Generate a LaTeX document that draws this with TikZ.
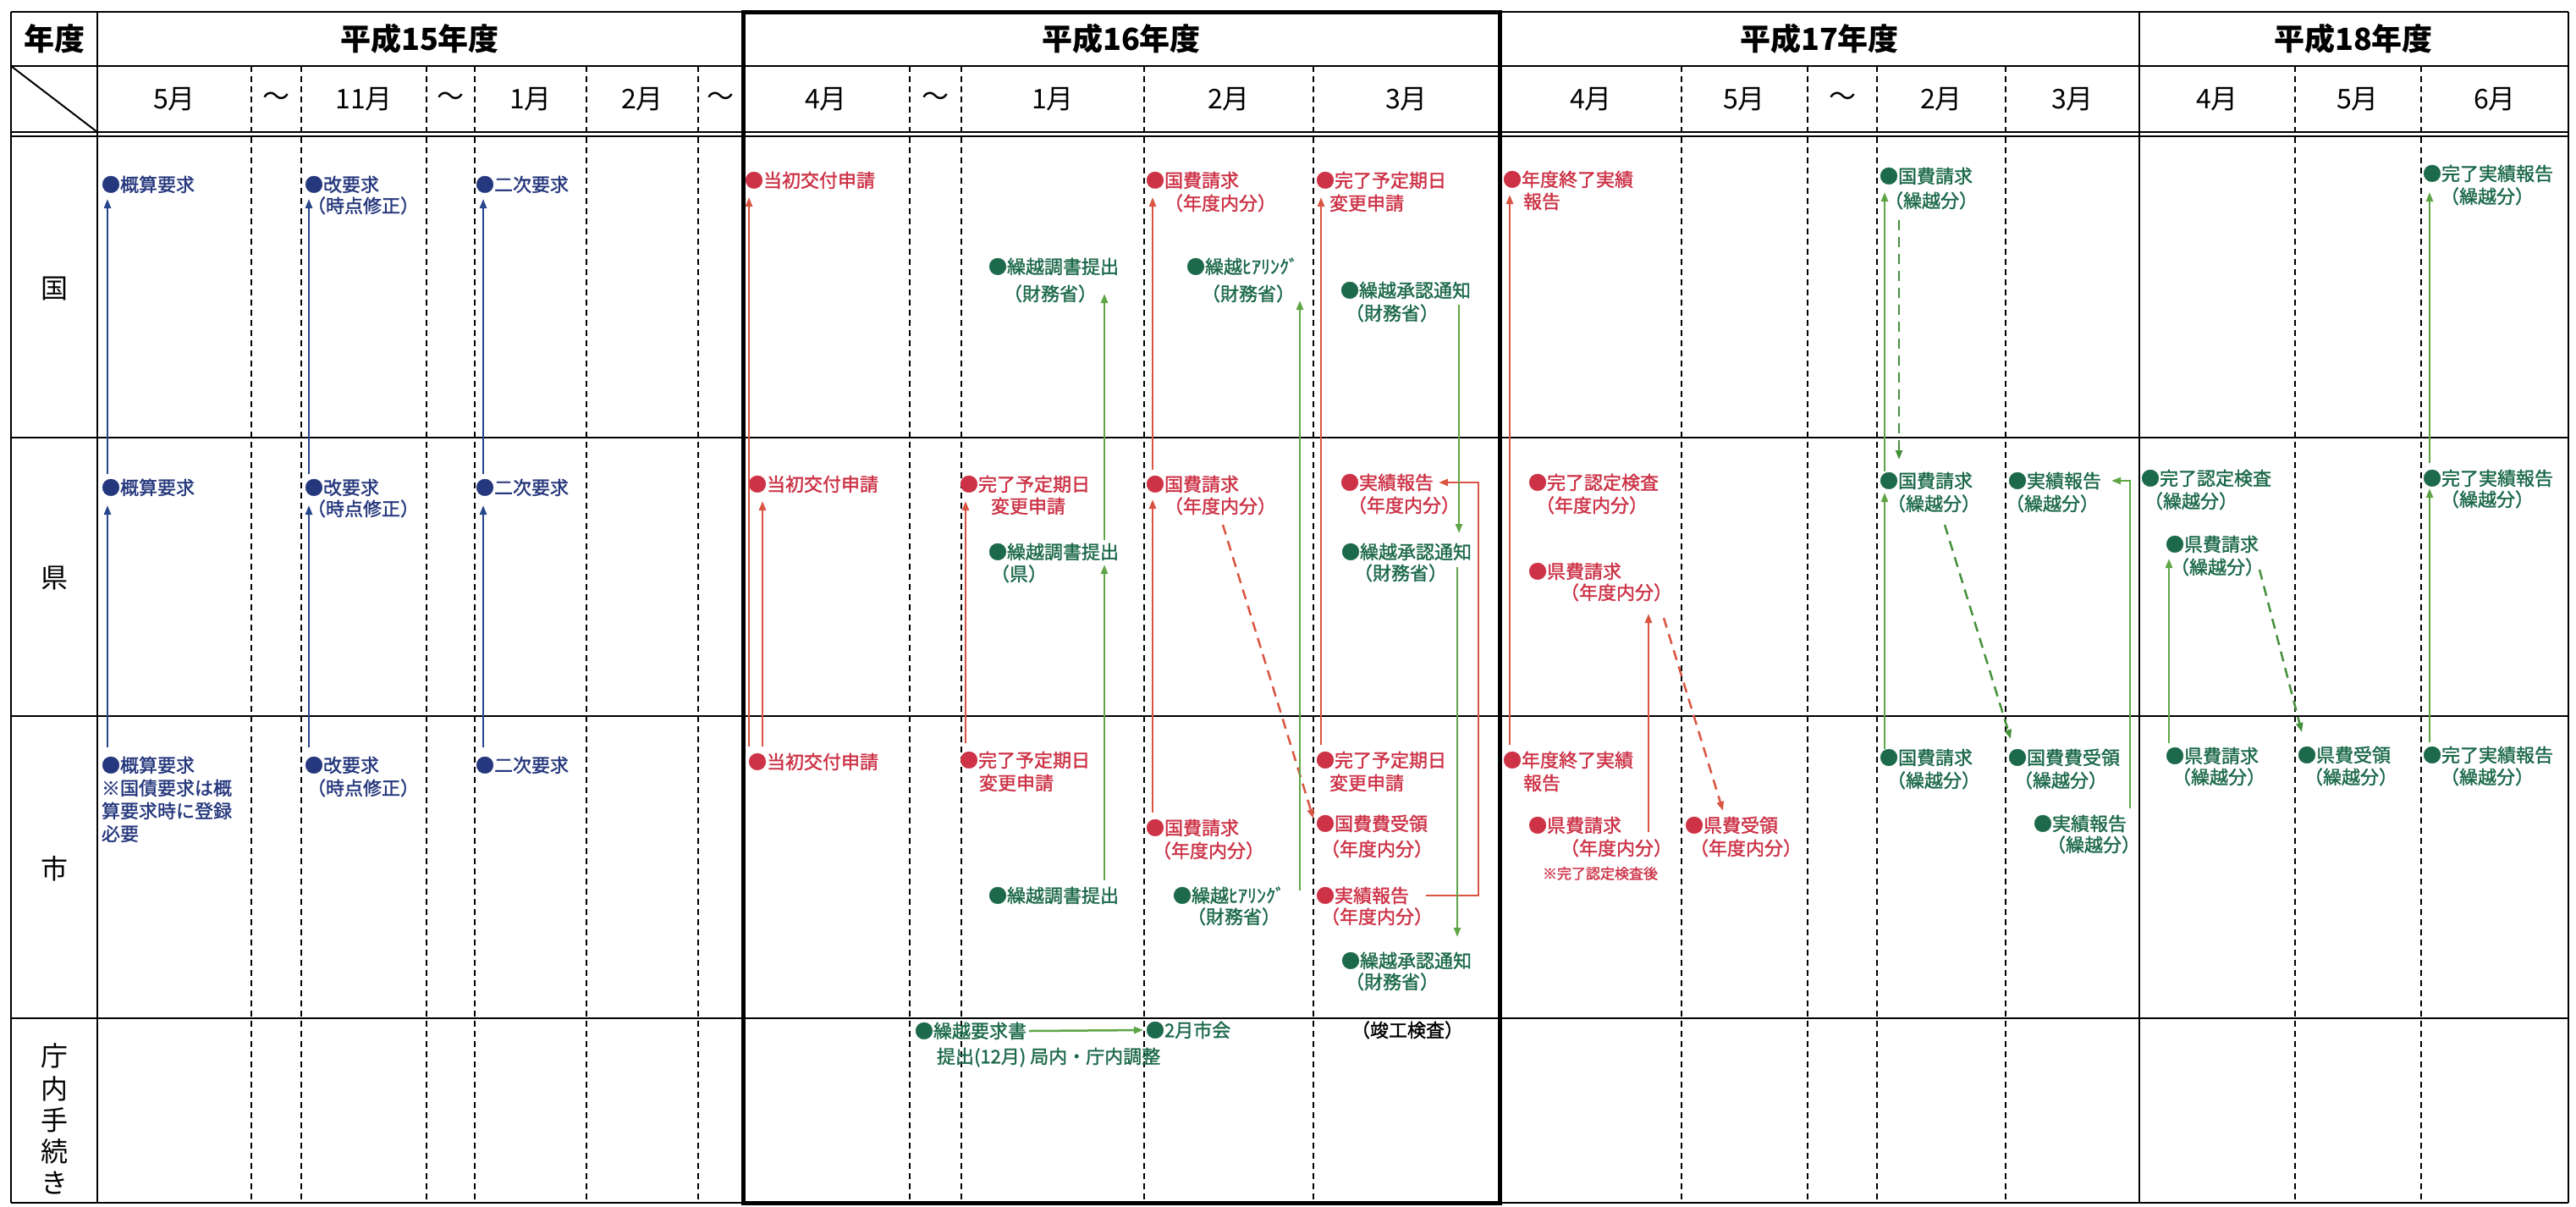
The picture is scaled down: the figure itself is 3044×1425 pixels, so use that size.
\documentclass[tikz,border=0pt]{standalone}
\usepackage{fontspec}
\newfontfamily\jp{Noto Sans CJK JP}
\newfontfamily\jpm[FakeBold=1.4]{Noto Sans CJK JP}
\usetikzlibrary{arrows.meta}
\definecolor{navyT}{RGB}{38,56,125}
\definecolor{navyL}{RGB}{40,70,140}
\definecolor{redT}{RGB}{205,50,70}
\definecolor{redL}{RGB}{218,85,65}
\definecolor{greenT}{RGB}{28,105,75}
\definecolor{greenL}{RGB}{95,165,70}
\definecolor{greenD}{RGB}{70,145,60}
\begin{document}
\begin{tikzpicture}[x=1pt,y=-1pt,
  lbl/.style={font=\jpm\fontsize{22}{26}\selectfont, inner sep=0pt, outer sep=0pt, anchor=west, text height=16.5pt, text depth=0pt},
  lN/.style={lbl,text=navyT}, lR/.style={lbl,text=redT}, lG/.style={lbl,text=greenT},
  lK/.style={lbl,text=black,anchor=center},
  aN/.style={draw=navyL, line width=2.5pt, -{Triangle[length=11pt,width=8pt]}},
  aR/.style={draw=redL, line width=2.5pt, -{Triangle[length=11pt,width=8pt]}},
  aG/.style={draw=greenL, line width=2.5pt, -{Triangle[length=11pt,width=8pt]}},
  dR/.style={aR, dash pattern=on 12pt off 8pt},
  dG/.style={draw=greenD, line width=2.5pt, dash pattern=on 12pt off 8pt, -{Triangle[length=11pt,width=8pt]}},
  gl/.style={line width=2pt, black},
  dl/.style={line width=1.5pt, black, dash pattern=on 7pt off 5pt},
  yhdr/.style={font=\jp\bfseries\fontsize{36}{40}\selectfont, inner sep=0pt},
  mon/.style={font=\jp\fontsize{32}{36}\selectfont, inner sep=0pt}]
\useasboundingbox (0,0) rectangle (3044,1425);
\fill[white] (0,0) rectangle (3044,1425);

% ---------- grid ----------
\foreach \x in {297,356,504,561,693,825,1075,1136,1352,1552,1987,2136,2218,2370,2712,2861}
  \draw[dl] (\x,78) -- (\x,1421);
\foreach \y in {14,78,156,161,517,846,1203,1421}
  \draw[gl] (13,\y) -- (3035,\y);
\foreach \x in {13,115,2528,3035}
  \draw[gl] (\x,14) -- (\x,1421);
\draw[gl] (13,78) -- (115,156);
\draw[line width=5pt] (878,14) rectangle (1772,1421);

% ---------- headers ----------
\node[yhdr] (hNendo) at (64,46) {年度};
\node[yhdr] (h15) at (496,46) {平成15年度};
\node[yhdr] (h16) at (1325,46) {平成16年度};
\node[yhdr] (h17) at (2150,46) {平成17年度};
\node[yhdr] (h18) at (2781,46) {平成18年度};

\node[mon] (m01) at (206,117) {5月};
\node[mon] (m02) at (326,117) {～};
\node[mon] (m03) at (430,117) {11月};
\node[mon] (m04) at (532,117) {～};
\node[mon] (m05) at (627,117) {1月};
\node[mon] (m06) at (759,117) {2月};
\node[mon] (m07) at (851,117) {～};
\node[mon] (m08) at (976,117) {4月};
\node[mon] (m09) at (1105,117) {～};
\node[mon] (m10) at (1244,117) {1月};
\node[mon] (m11) at (1452,117) {2月};
\node[mon] (m12) at (1662,117) {3月};
\node[mon] (m13) at (1880,117) {4月};
\node[mon] (m14) at (2061,117) {5月};
\node[mon] (m15) at (2177,117) {～};
\node[mon] (m16) at (2294,117) {2月};
\node[mon] (m17) at (2449,117) {3月};
\node[mon] (m18) at (2620,117) {4月};
\node[mon] (m19) at (2786,117) {5月};
\node[mon] (m20) at (2948,117) {6月};

\node[mon] (rKuni) at (64,341) {国};
\node[mon] (rKen) at (64,683) {県};
\node[mon] (rShi) at (64,1026) {市};
\node[mon] (rC1) at (64,1247) {庁};
\node[mon] (rC2) at (64,1286) {内};
\node[mon] (rC3) at (64,1323) {手};
\node[mon] (rC4) at (64,1360) {続};
\node[mon] (rC5) at (64,1397) {き};

% ---------- H15 navy ----------
\node[lN] (gGai) at (120,218) {●概算要求};
\node[lN] (gKai) at (360,218) {●改要求};
\node[lN] (gKai2) at (363,243) {（時点修正）};
\node[lN] (gNiji) at (562,218) {●二次要求};
\node[lN] (kGai) at (120,576) {●概算要求};
\node[lN] (kKai) at (360,576) {●改要求};
\node[lN] (kKai2) at (363,601) {（時点修正）};
\node[lN] (kNiji) at (562,576) {●二次要求};
\node[lN] (sGai) at (120,904) {●概算要求};
\node[lN] (sGai2) at (120,931) {※国債要求は概};
\node[lN] (sGai3) at (120,958) {算要求時に登録};
\node[lN] (sGai4) at (120,985) {必要};
\node[lN] (sKai) at (360,904) {●改要求};
\node[lN] (sKai2) at (363,931) {（時点修正）};
\node[lN] (sNiji) at (562,904) {●二次要求};

\draw[aN] ([shift={(7,-21)}]sGai.west) -- ([shift={(7,21)}]kGai.west);
\draw[aN] ([shift={(7,-16)}]kGai.west) -- ([shift={(7,17)}]gGai.west);
\draw[aN] ([shift={(5,-21)}]sKai.west) -- ([shift={(5,21)}]kKai.west);
\draw[aN] ([shift={(5,-16)}]kKai.west) -- ([shift={(5,17)}]gKai.west);
\draw[aN] ([shift={(9,-21)}]sNiji.west) -- ([shift={(9,21)}]kNiji.west);
\draw[aN] ([shift={(9,-16)}]kNiji.west) -- ([shift={(9,17)}]gNiji.west);

% ---------- H16 red ----------
\node[lR] (gTou) at (880,213) {●当初交付申請};
\node[lR] (kTou) at (884,572) {●当初交付申請};
\node[lR] (sTou) at (884,900) {●当初交付申請};
\draw[aR] ([shift={(1,-18)}]sTou.west) -- ([shift={(5,20)}]gTou.west);
\draw[aR] ([shift={(17,-18)}]sTou.west) -- ([shift={(17,20)}]kTou.west);

\node[lR] (gKoku) at (1354,213) {●国費請求};
\node[lR] (gKoku2) at (1376,240) {（年度内分）};
\node[lR] (kKoku) at (1354,572) {●国費請求};
\node[lR] (kKoku2) at (1376,598) {（年度内分）};
\node[lR] (sKoku) at (1354,978) {●国費請求};
\node[lR] (sKoku2) at (1362,1005) {（年度内分）};
\draw[aR] ([shift={(8,-18)}]sKoku.west) -- ([shift={(8,18)}]kKoku.west);
\draw[aR] ([shift={(8,-17)}]kKoku.west) -- ([shift={(8,20)}]gKoku.west);

\node[lR] (gKan) at (1555,213) {●完了予定期日};
\node[lR] (gKan2) at (1571,240) {変更申請};
\node[lR] (sKan) at (1555,898) {●完了予定期日};
\node[lR] (sKan2) at (1571,925) {変更申請};
\draw[aR] ([shift={(6,-18)}]sKan.west) -- ([shift={(6,20)}]gKan.west);

\node[lR] (kKan1) at (1134,572) {●完了予定期日};
\node[lR] (kKan1b) at (1171,598) {変更申請};
\node[lR] (sKan1) at (1134,898) {●完了予定期日};
\node[lR] (sKan1b) at (1157,925) {変更申請};
\draw[aR] ([shift={(7,-20)}]sKan1.west) -- ([shift={(7,20)}]kKan1.west);

\node[lR] (kJis) at (1584,570) {●実績報告};
\node[lR] (kJis2) at (1593,597) {（年度内分）};
\node[lR] (sJis) at (1555,1058) {●実績報告};
\node[lR] (sJis2) at (1561,1083) {（年度内分）};
\draw[aR] ([xshift=130pt]sJis.west) -- ++(62,0) |- ([xshift=116pt]kJis.west);

\node[lR] (sJuryo) at (1555,973) {●国費費受領};
\node[lR] (sJuryo2) at (1561,1003) {（年度内分）};
\draw[dR] ([shift={(69,22)}]kKoku2.west) -- ([shift={(-3,-6)}]sJuryo.west);

% ---------- H16 green ----------
\node[lG] (gCho) at (1168,315) {●繰越調書提出};
\node[lG] (gCho2) at (1186,347) {（財務省）};
\node[lG] (kCho) at (1168,652) {●繰越調書提出};
\node[lG] (kCho2) at (1171,678) {（県）};
\node[lG] (sCho) at (1168,1058) {●繰越調書提出};
\draw[aG] ([shift={(137,-18)}]sCho.west) -- ([shift={(137,15)}]kCho.west);
\draw[aG] ([shift={(137,-14)}]kCho.west) -- ([shift={(137,32)}]gCho.west);

\node[lG] (gHear) at (1402,315) {●繰越ﾋｱﾘﾝｸﾞ};
\node[lG] (gHear2) at (1420,347) {（財務省）};
\node[lG] (sHear) at (1386,1058) {●繰越ﾋｱﾘﾝｸﾞ};
\node[lG] (sHear2) at (1403,1083) {（財務省）};
\draw[aG] ([shift={(150,-6)}]sHear.west) -- ([shift={(134,40)}]gHear.west);

\node[lG] (gSho) at (1584,343) {●繰越承認通知};
\node[lG] (gSho2) at (1590,370) {（財務省）};
\node[lG] (kSho) at (1585,652) {●繰越承認通知};
\node[lG] (kSho2) at (1600,677) {（財務省）};
\node[lG] (sSho) at (1585,1135) {●繰越承認通知};
\node[lG] (sSho2) at (1590,1160) {（財務省）};
\draw[aG] ([shift={(140,17)}]gSho.west) -- ([shift={(139,-22)}]kSho.west);
\draw[aG] ([shift={(137,18)}]kSho.west) -- ([shift={(137,-28)}]sSho.west);

\node[lG] (tYou) at (1081,1218) {●繰越要求書};
\node[lG] (tYou2) at (1107,1248) {提出(12月) 局内・庁内調整};
\node[lG] (tShikai) at (1354,1217) {●2月市会};
\draw[aG] ([xshift=135pt]tYou.west) -- ([xshift=-3pt]tShikai.west);
\node[lK] (tShunko) at (1663,1217) {（竣工検査）};

% ---------- H17 red ----------
\node[lR] (gNen) at (1776,212) {●年度終了実績};
\node[lR] (gNen2) at (1800,238) {報告};
\node[lR] (sNen) at (1776,898) {●年度終了実績};
\node[lR] (sNen2) at (1800,925) {報告};
\draw[aR] ([shift={(8,-18)}]sNen.west) -- ([shift={(8,18)}]gNen.west);

\node[lR] (kNin) at (1806,570) {●完了認定検査};
\node[lR] (kNin2) at (1815,597) {（年度内分）};
\node[lR] (kKen) at (1806,675) {●県費請求};
\node[lR] (kKen2) at (1844,700) {（年度内分）};
\node[lR] (sKen) at (1806,975) {●県費請求};
\node[lR] (sKen2) at (1844,1002) {（年度内分）};
\node[lR, font=\jpm\fontsize{17}{20}\selectfont, text height=12.75pt] (sKen3) at (1823,1032) {※完了認定検査後};
\draw[aR] ([shift={(142,8)}]sKen.west) -- ([shift={(142,50)}]kKen.west);
\node[lR] (sKenJ) at (1991,975) {●県費受領};
\node[lR] (sKenJ2) at (1997,1002) {（年度内分）};
\draw[dR] ([shift={(122,30)}]kKen2.west) -- ([shift={(45,-17)}]sKenJ.west);

% ---------- H17 green ----------
\node[lG] (gKokK) at (2221,208) {●国費請求};
\node[lG] (gKokK2) at (2227,237) {（繰越分）};
\node[lG] (kKokK) at (2221,568) {●国費請求};
\node[lG] (kKokK2) at (2230,595) {（繰越分）};
\node[lG] (sKokK) at (2221,895) {●国費請求};
\node[lG] (sKokK2) at (2230,922) {（繰越分）};
\draw[aG] ([shift={(6,-10)}]sKokK.west) -- ([shift={(6,14)}]kKokK.west);
\draw[aG] ([shift={(6,-11)}]kKokK.west) -- ([shift={(6,19)}]gKokK.west);
\draw[dG] ([shift={(23,52)}]gKokK.west) -- ([shift={(23,-25)}]kKokK.west);

\node[lG] (kJisK) at (2373,568) {●実績報告};
\node[lG] (kJisK2) at (2370,595) {（繰越分）};
\node[lG] (sJuK) at (2373,895) {●国費費受領};
\node[lG] (sJuK2) at (2380,922) {（繰越分）};
\node[lG] (sJisK) at (2403,973) {●実績報告};
\node[lG] (sJisK2) at (2419,998) {（繰越分）};
\draw[dG] ([shift={(68,25)}]kKokK2.west) -- ([shift={(3,-22)}]sJuK.west);
\draw[aG] ([shift={(114,-18)}]sJisK.west) |- ([xshift=122pt]kJisK.west);

% ---------- H18 green ----------
\node[lG] (kNinK) at (2530,565) {●完了認定検査};
\node[lG] (kNinK2) at (2534,592) {（繰越分）};
\node[lG] (kKenK) at (2559,643) {●県費請求};
\node[lG] (kKenK2) at (2565,670) {（繰越分）};
\node[lG] (sKenK) at (2559,893) {●県費請求};
\node[lG] (sKenK2) at (2567,918) {（繰越分）};
\draw[aG] ([shift={(4,-15)}]sKenK.west) -- ([shift={(4,17)}]kKenK.west);
\node[lG] (sKenJK) at (2715,892) {●県費受領};
\node[lG] (sKenJK2) at (2723,918) {（繰越分）};
\draw[dG] ([shift={(105,3)}]kKenK2.west) -- ([shift={(5,-27)}]sKenJK.west);

\node[lG] (gKanJ) at (2863,205) {●完了実績報告};
\node[lG] (gKanJ2) at (2884,232) {（繰越分）};
\node[lG] (kKanJ) at (2863,565) {●完了実績報告};
\node[lG] (kKanJ2) at (2884,590) {（繰越分）};
\node[lG] (sKanJ) at (2863,892) {●完了実績報告};
\node[lG] (sKanJ2) at (2884,918) {（繰越分）};
\draw[aG] ([shift={(8,-15)}]sKanJ.west) -- ([shift={(8,12)}]kKanJ.west);
\draw[aG] ([shift={(8,-18)}]kKanJ.west) -- ([shift={(8,22)}]gKanJ.west);
\end{tikzpicture}
\end{document}
